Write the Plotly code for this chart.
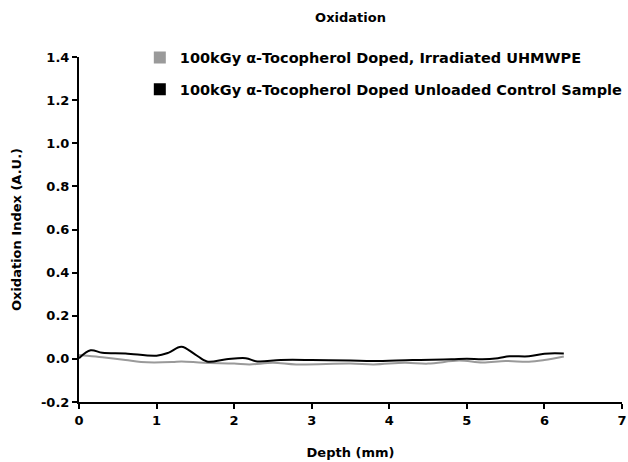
import plotly.graph_objects as go

depth_black = [0.0, 0.15, 0.3, 0.6, 1.0, 1.15, 1.32, 1.5, 1.65, 1.9, 2.15, 2.3, 2.6, 3.0, 3.5, 3.8, 4.3, 4.8, 5.0, 5.2, 5.4, 5.55, 5.8, 6.0, 6.25]
ox_black = [0.003, 0.040, 0.028, 0.025, 0.015, 0.028, 0.056, 0.020, -0.012, -0.002, 0.003, -0.012, -0.005, -0.005, -0.008, -0.010, -0.005, -0.002, 0.001, -0.002, 0.003, 0.012, 0.012, 0.024, 0.025]

depth_gray = [0.0, 0.1, 0.3, 0.6, 0.8, 1.2, 1.32, 1.6, 2.0, 2.2, 2.5, 2.8, 3.5, 3.8, 4.2, 4.5, 4.9, 5.2, 5.5, 5.8, 6.0, 6.25]
ox_gray = [0.018, 0.015, 0.008, -0.005, -0.015, -0.015, -0.012, -0.018, -0.022, -0.026, -0.018, -0.026, -0.022, -0.026, -0.018, -0.022, -0.008, -0.017, -0.010, -0.013, -0.005, 0.011]

name_gray = "100kGy α-Tocopherol Doped, Irradiated UHMWPE"
name_black = "100kGy α-Tocopherol Doped Unloaded Control Sample"
x_ticks = [0, 1, 2, 3, 4, 5, 6, 7]
y_ticks = [-0.2, 0.0, 0.2, 0.4, 0.6, 0.8, 1.0, 1.2, 1.4]

GRAY = "#9a9a9a"
BLACK = "#000000"
FONT = "DejaVu Sans"

fig = go.Figure()
fig.add_trace(go.Scatter(x=depth_gray, y=ox_gray, mode="lines", line=dict(color=GRAY, width=2, shape="spline"), showlegend=False))
fig.add_trace(go.Scatter(x=depth_black, y=ox_black, mode="lines", line=dict(color=BLACK, width=2, shape="spline"), showlegend=False))
fig.add_trace(go.Scatter(x=[None], y=[None], mode="markers", name=name_gray, legendgroup="a",
                         marker=dict(symbol="square", size=12, color=GRAY)))
fig.add_trace(go.Scatter(x=[None], y=[None], mode="markers", name=name_black, legendgroup="b",
                         marker=dict(symbol="square", size=12, color=BLACK)))

fig.update_layout(
    width=628, height=462,
    margin=dict(l=79, r=6, t=57, b=60, autoexpand=False),
    paper_bgcolor="white", plot_bgcolor="white",
    font=dict(family=FONT, size=12.5, color="black"),
    title=dict(text="Oxidation", x=0.5, xref="paper", xanchor="center", y=0.963, yref="container", yanchor="middle",
               font=dict(family=FONT, size=13, color="black", weight="bold")),
    legend=dict(x=0.112, y=1.045, xanchor="left", yanchor="top", bgcolor="rgba(0,0,0,0)",
                tracegroupgap=10, itemwidth=30,
                font=dict(family=FONT, size=14.5, color="black", weight="bold")),
    xaxis=dict(range=[0, 7], tickvals=x_ticks, ticktext=[str(v) for v in x_ticks],
               showgrid=False, zeroline=False, showline=True, linecolor="black", linewidth=2,
               ticks="outside", ticklen=5, tickwidth=2, tickcolor="black",
               tickfont=dict(family=FONT, size=13, weight="bold"),
               title=dict(text="Depth (mm)", font=dict(family=FONT, size=13, weight="bold"), standoff=21)),
    yaxis=dict(range=[-0.2, 1.4], tickvals=y_ticks, ticktext=[f"{v:.1f}" for v in y_ticks],
               showgrid=False, zeroline=False, showline=True, linecolor="black", linewidth=2,
               ticks="outside", ticklen=5, tickwidth=2, tickcolor="black",
               tickfont=dict(family=FONT, size=13, weight="bold"),
               title=dict(text="Oxidation Index (A.U.)", font=dict(family=FONT, size=13, weight="bold"), standoff=16)),
)

fig.write_html("out.html")
